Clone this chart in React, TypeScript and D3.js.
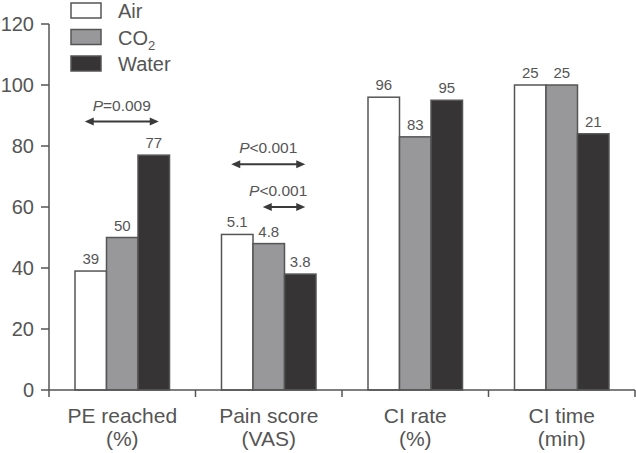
import React from "react";
import * as d3 from "d3";

const categories = ["PE reached", "Pain score", "CI rate", "CI time"];
const categoryUnits = ["(%)", "(VAS)", "(%)", "(min)"];
const plotFactor = [1, 10, 1, 4];
const seriesNames = ["Air", "CO2", "Water"];
const airValues = [39, 5.1, 96, 25];
const co2Values = [50, 4.8, 83, 25];
const waterValues = [77, 3.8, 95, 21];
const yTicks = [0, 20, 40, 60, 80, 100, 120];
const fills = ["#ffffff", "#98989b", "#363435"];

// significance annotations: category index, from series, to series, y level, label
const sigCat = [0, 1, 1];
const sigFrom = [0, 0, 1];
const sigTo = [2, 2, 2];
const sigLevel = [88, 74, 60];
const sigOp = ["=0.009", "<0.001", "<0.001"];

const W = 636;
const H = 453;
const FONT = "'Liberation Sans', Arial, sans-serif";
const TXT = "#555";
const AX = "#555";

export default function App() {
  const x0 = d3.scaleBand<string>().domain(categories).range([49, 635]).paddingInner(0).paddingOuter(0);
  const gw = x0.bandwidth();
  const x1 = d3.scaleBand<string>().domain(seriesNames).range([26, gw - 26]).padding(0);
  const y = d3.scaleLinear().domain([0, 120]).range([390, 24]);
  const series = [airValues, co2Values, waterValues];

  const arrowHead = (xTip: number, yy: number, dir: number) =>
    `M${xTip},${yy} L${xTip - dir * 9},${yy - 4} L${xTip - dir * 9},${yy + 4} Z`;

  return (
    <svg width={W} height={H} style={{ position: "absolute", left: 0, top: 0, background: "#fff" }} fontFamily={FONT}>
      {/* bars */}
      {categories.map((c, ci) => (
        <g key={c} transform={`translate(${x0(c)},0)`}>
          {seriesNames.map((s, si) => {
            const v = series[si][ci];
            const pv = v * plotFactor[ci];
            const bx = x1(s)!;
            const bw = x1.bandwidth();
            return (
              <g key={s}>
                <rect x={bx} y={y(pv)} width={bw} height={y(0) - y(pv)} fill={fills[si]} stroke="#555" strokeWidth={1.5} />
                <text x={bx + bw / 2} y={y(pv) - 7} textAnchor="middle" fontSize={15} fill={TXT}>
                  {String(v)}
                </text>
              </g>
            );
          })}
        </g>
      ))}

      {/* y axis */}
      <line x1={49} x2={49} y1={y(120)} y2={397} stroke={AX} strokeWidth={1.5} />
      {yTicks.map((t) => (
        <g key={t}>
          <line x1={41} x2={49} y1={y(t)} y2={y(t)} stroke={AX} strokeWidth={1.5} />
          <text x={34} y={y(t) + 7} textAnchor="end" fontSize={20} fill={TXT}>
            {t}
          </text>
        </g>
      ))}

      {/* x axis */}
      <line x1={49} x2={635} y1={y(0)} y2={y(0)} stroke={AX} strokeWidth={1.5} />
      {categories.map((c) => (
        <line key={"t" + c} x1={x0(c)! + gw} x2={x0(c)! + gw} y1={y(0)} y2={y(0) + 7} stroke={AX} strokeWidth={1.5} />
      ))}
      {categories.map((c, ci) => (
        <text key={"l" + c} x={x0(c)! + gw / 2} textAnchor="middle" fontSize={21} fill={TXT}>
          <tspan x={x0(c)! + gw / 2} y={423}>{c}</tspan>
          <tspan x={x0(c)! + gw / 2} y={446}>{categoryUnits[ci]}</tspan>
        </text>
      ))}

      {/* significance arrows */}
      {sigCat.map((ci, k) => {
        const c = categories[ci];
        const bw = x1.bandwidth();
        const xa = x0(c)! + x1(seriesNames[sigFrom[k]])! + bw / 2 - 6;
        const xb = x0(c)! + x1(seriesNames[sigTo[k]])! + bw / 2 + 5;
        const yy = y(sigLevel[k]);
        const tx = k === 2 ? xb + 2 : (xa + xb) / 2;
        return (
          <g key={"s" + k}>
            <line x1={xa + 5} x2={xb - 5} y1={yy} y2={yy} stroke="#3a3a3a" strokeWidth={2} />
            <path d={arrowHead(xb, yy, 1)} fill="#3a3a3a" />
            <path d={arrowHead(xa, yy, -1)} fill="#3a3a3a" />
            <text x={tx} y={yy - 11} textAnchor={k === 2 ? "end" : "middle"} fontSize={15.5} fill={TXT}>
              <tspan fontStyle="italic">P</tspan>
              {sigOp[k]}
            </text>
          </g>
        );
      })}

      {/* legend */}
      {seriesNames.map((s, si) => (
        <g key={"lg" + s} transform={`translate(71,${3 + si * 26.5})`}>
          <rect x={0} y={0} width={30} height={15} fill={fills[si]} stroke="#555" strokeWidth={1.5} />
          <text x={47} y={15} fontSize={20} fill={TXT}>
            {s === "CO2" ? (
              <>
                CO<tspan fontSize={13} dy={5}>2</tspan>
              </>
            ) : (
              s
            )}
          </text>
        </g>
      ))}
    </svg>
  );
}
